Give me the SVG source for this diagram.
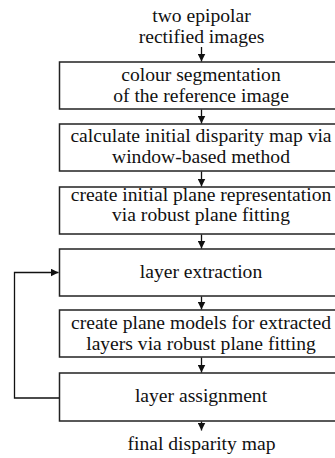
<svg xmlns="http://www.w3.org/2000/svg" width="335" height="458" viewBox="0 0 335 458" font-family="Times New Roman, Liberation Serif, serif">
<style>
.box{fill:#fff;stroke:#222;stroke-width:1.5}
.ln{fill:none;stroke:#111;stroke-width:1.3}
.t{font-family:"Times New Roman","Liberation Serif",serif;font-size:19.6px;fill:#111;text-anchor:middle}
</style>
<defs>
<marker id="ah" viewBox="0 0 8 8" refX="8" refY="4" markerWidth="8" markerHeight="8" markerUnits="userSpaceOnUse" orient="auto">
<path d="M0,0 L8,4 L0,8 Z" fill="#111"/>
</marker>
</defs>
<rect width="335" height="458" fill="#fff"/>
<g id="input">
<text class="t" x="201.5" y="21.7">two epipolar</text>
<text class="t" x="201.5" y="42.5">rectified images</text>
</g>
<g id="n1"><rect class="box" x="59.5" y="62" width="283" height="47"/>
<text class="t" x="201" y="80.5">colour segmentation</text>
<text class="t" x="201" y="101.5">of the reference image</text></g>
<g id="n2"><rect class="box" x="59.5" y="124" width="283" height="47"/>
<text class="t" x="201" y="142">calculate initial disparity map via</text>
<text class="t" x="201" y="163">window-based method</text></g>
<g id="n3"><rect class="box" x="59.5" y="187" width="283" height="47"/>
<text class="t" x="201" y="200.5">create initial plane representation</text>
<text class="t" x="201" y="221">via robust plane fitting</text></g>
<g id="n4"><rect class="box" x="59.5" y="249" width="283" height="47"/>
<text class="t" x="201" y="277.5">layer extraction</text></g>
<g id="n5"><rect class="box" x="59.5" y="310" width="283" height="47"/>
<text class="t" x="201" y="328.5">create plane models for extracted</text>
<text class="t" x="201" y="349.5">layers via robust plane fitting</text></g>
<g id="n6"><rect class="box" x="59.5" y="373" width="283" height="48"/>
<text class="t" x="201" y="402">layer assignment</text></g>
<g id="output">
<text class="t" x="201.5" y="450">final disparity map</text>
</g>
<g id="connectors">
<line class="ln" x1="201.5" y1="47" x2="201.5" y2="61.5" marker-end="url(#ah)"/>
<line class="ln" x1="201.5" y1="109.5" x2="201.5" y2="123.5" marker-end="url(#ah)"/>
<line class="ln" x1="201.5" y1="171.5" x2="201.5" y2="186.5" marker-end="url(#ah)"/>
<line class="ln" x1="201.5" y1="234.5" x2="201.5" y2="248.5" marker-end="url(#ah)"/>
<line class="ln" x1="201.5" y1="296.5" x2="201.5" y2="309.5" marker-end="url(#ah)"/>
<line class="ln" x1="201.5" y1="357.5" x2="201.5" y2="372.5" marker-end="url(#ah)"/>
<line class="ln" x1="201.5" y1="421.5" x2="201.5" y2="430.5" marker-end="url(#ah)"/>
<polyline class="ln" points="59,398 14.5,398 14.5,272.5 58.5,272.5" marker-end="url(#ah)"/>
</g>
</svg>
